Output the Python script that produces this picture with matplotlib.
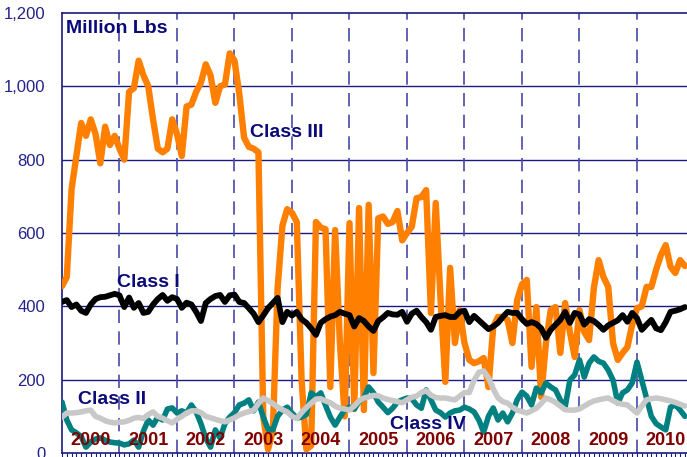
import numpy as np
import matplotlib
matplotlib.use("Agg")
import matplotlib.pyplot as plt

# monthly, Jan 2000 .. Nov 2010 (million lbs)
class_iii = [455, 480, 720, 810, 900, 865, 910, 870, 790, 890, 840, 865,
             830, 800, 985, 995, 1070, 1030, 1000, 910, 830, 820, 830, 910,
             870, 810, 945, 950, 985, 1010, 1060, 1030, 955, 1000, 1005, 1090,
             1070, 980, 860, 835, 830, 820, 100, 10, 60, 450, 620, 665,
             655, 630, 200, 10, 20, 630, 615, 610, 180, 608, 300, 100,
             627, 120, 668, 117, 677, 218, 640, 645, 625, 630, 660, 580,
             600, 617, 695, 698, 717, 382, 682, 420, 194, 505, 300, 390,
             300, 254, 245, 250, 259, 180, 344, 371, 371, 363, 300, 417,
             460, 472, 235, 398, 153, 300, 390, 398, 273, 409, 330, 262,
             390, 330, 308, 450, 526, 480, 453, 300, 254, 273, 289, 350,
             395, 400, 453, 453, 500, 540, 567, 508, 491, 526, 510]

class_i = [412, 417, 398, 405, 388, 382, 405, 420, 425, 426, 430, 434,
           430, 398, 424, 396, 409, 382, 385, 405, 420, 431, 415, 425,
           420, 396, 410, 405, 385, 360, 409, 420, 428, 431, 412, 430,
           432, 412, 409, 395, 380, 357, 375, 395, 409, 423, 357, 385,
           375, 385, 365, 355, 340, 322, 355, 365, 372, 376, 385, 380,
           376, 345, 368, 360, 345, 333, 360, 370, 382, 378, 377, 385,
           358, 380, 388, 371, 357, 336, 371, 374, 376, 371, 371, 385,
           388, 357, 374, 362, 350, 338, 345, 355, 371, 385, 382, 382,
           365, 352, 357, 352, 340, 314, 336, 350, 363, 385, 355, 382,
           378, 350, 365, 360, 349, 336, 348, 355, 362, 376, 358, 382,
           368, 336, 350, 363, 340, 335, 357, 385, 388, 392, 398]

class_ii = [139, 90, 63, 55, 45, 16, 30, 38, 41, 35, 30, 28,
            27, 22, 25, 35, 16, 60, 90, 76, 98, 90, 120, 123,
            109, 115, 109, 131, 112, 80, 40, 16, 63, 41, 80, 98,
            110, 131, 136, 145, 115, 139, 98, 65, 63, 100, 117, 125,
            109, 95, 98, 105, 164, 153, 164, 130, 98, 76, 98, 117,
            125, 120, 140, 150, 180, 164, 139, 125, 110, 122, 139, 145,
            150, 148, 131, 122, 172, 145, 117, 110, 98, 109, 115, 117,
            125, 120, 112, 90, 57, 100, 123, 90, 109, 85, 109, 145,
            166, 155, 131, 177, 164, 191, 180, 172, 145, 125, 199, 213,
            254, 207, 245, 262, 250, 245, 226, 199, 136, 164, 172, 191,
            248, 199, 150, 100, 80, 71, 63, 125, 131, 117, 100]

class_iv = [98, 109, 109, 110, 112, 115, 117, 100, 95, 88, 84, 82,
            84, 85, 89, 95, 97, 94, 105, 112, 100, 95, 88, 82,
            92, 100, 109, 115, 115, 110, 100, 96, 92, 88, 85, 90,
            96, 104, 109, 113, 117, 135, 150, 143, 135, 125, 118, 112,
            100, 94, 110, 124, 136, 147, 148, 142, 137, 128, 122, 120,
            117, 128, 142, 150, 153, 157, 156, 150, 146, 143, 140, 137,
            145, 152, 155, 165, 170, 158, 151, 150, 150, 147, 145, 155,
            165, 165, 198, 220, 224, 205, 175, 150, 140, 136, 125, 117,
            113, 109, 115, 122, 135, 150, 145, 138, 128, 118, 117, 117,
            120, 128, 136, 142, 145, 148, 150, 143, 136, 133, 131, 120,
            109, 128, 145, 148, 150, 148, 145, 142, 138, 133, 128]

years = list(range(2000, 2011))
x = 2000 + np.arange(len(class_iii)) / 12

navy = '#1a1a80'
plt.rcParams['font.family'] = ['Liberation Sans', 'DejaVu Sans']

fig = plt.figure(figsize=(6.87, 4.57), dpi=100)
ax = fig.add_axes([62 / 687, 4 / 457, 625 / 687, 440 / 457])

line_kw = dict(solid_joinstyle='round', solid_capstyle='round')
ax.plot(x, class_iii, color='#ff8000', lw=4.6, zorder=3, **line_kw)
ax.plot(x, class_ii, color='#008080', lw=4.0, zorder=4, **line_kw)
ax.plot(x, class_iv, color='#c8c8c8', lw=4.0, zorder=5, **line_kw)
ax.plot(x, class_i, color='black', lw=4.2, zorder=6, **line_kw)

ax.set_xlim(2000, 2010.87)
ax.set_ylim(0, 1200)

for v in range(200, 1200, 200):
    ax.axhline(v, color=navy, lw=1.0, zorder=1)
for yr in years[1:]:
    ax.axvline(yr, color='#4848a8', lw=1.2, dashes=(8, 5), zorder=1)

ax.set_yticks(range(0, 1201, 200))
ax.set_yticklabels([f'{v:,}' for v in range(0, 1201, 200)])
ax.tick_params(axis='y', length=0, pad=12, labelsize=12, labelcolor='#22228a')
ax.set_xticks(years)
ax.set_xticks(x, minor=True)
ax.tick_params(axis='x', which='both', direction='out', length=3, width=0.8,
               color=navy, labelbottom=False)

for s in ['left', 'top', 'bottom']:
    ax.spines[s].set_color(navy)
    ax.spines[s].set_linewidth(1.2)
ax.spines['right'].set_visible(False)

for yr in years:
    ax.text(yr + 0.5, 35, str(yr), ha='center', va='center', fontsize=13,
            fontweight='bold', color='#800000', zorder=7)

lab = dict(fontsize=14, fontweight='bold', color='#0a0a78', va='center', ha='left', zorder=8)
ax.text(2000.07, 1159, 'Million Lbs', **lab)
ax.text(2003.27, 873, 'Class III', **lab)
ax.text(2000.96, 466, 'Class I', **lab)
ax.text(2000.28, 145, 'Class II', **lab)
ax.text(2005.70, 79, 'Class IV', **lab)

fig.savefig('out.png', dpi=100)
